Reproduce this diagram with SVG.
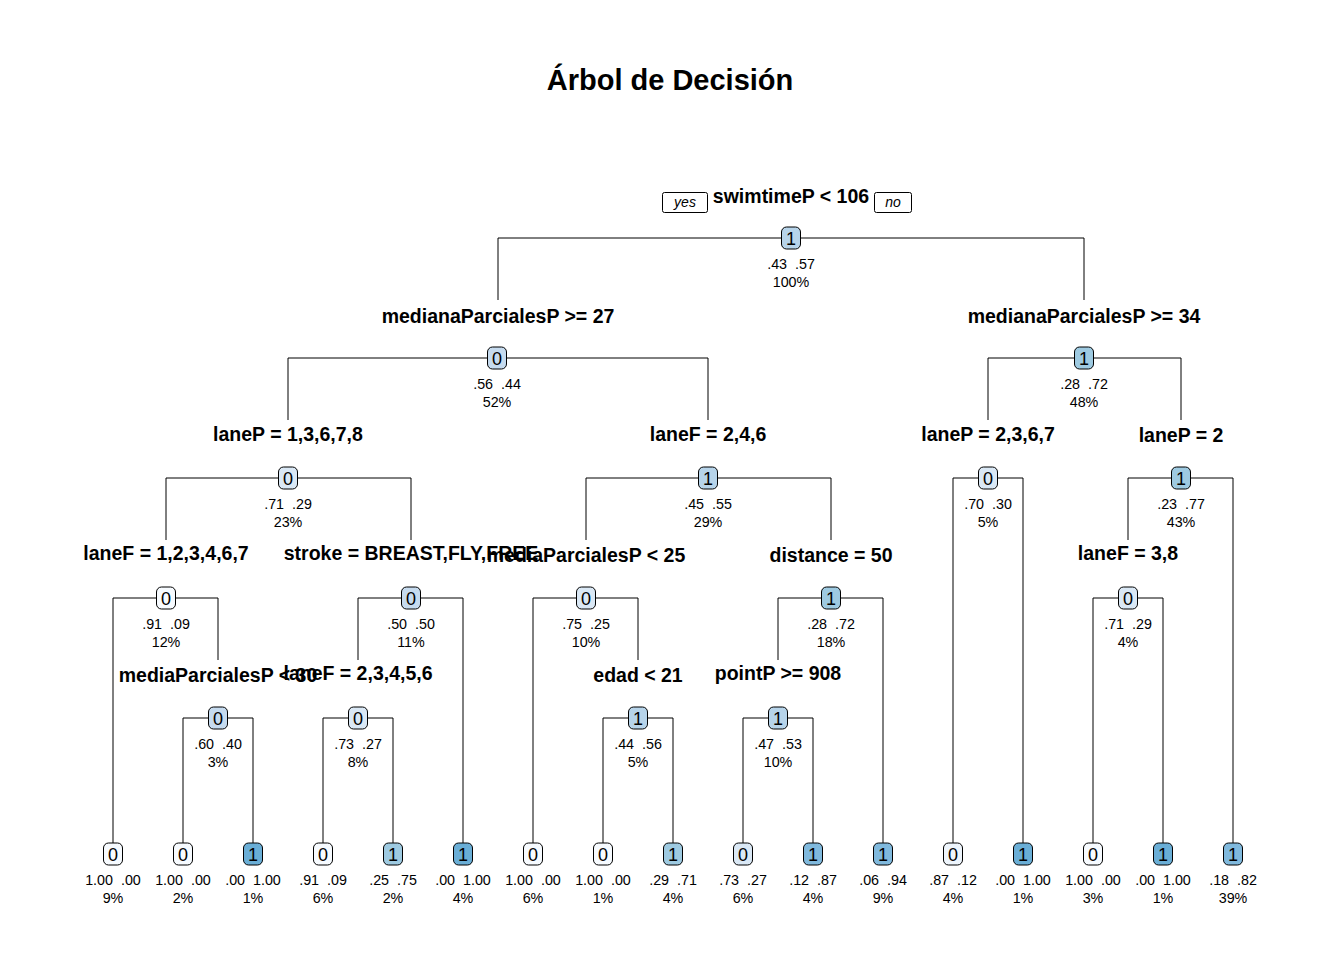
<svg xmlns="http://www.w3.org/2000/svg" width="1344" height="960" viewBox="0 0 1344 960">
<style>
text{font-family:"Liberation Sans",Arial,sans-serif;fill:#000}
.title{font-size:29px;font-weight:bold;text-anchor:middle}
.split{font-size:19.5px;font-weight:bold;text-anchor:middle}
.yn{font-size:14px;font-style:italic;text-anchor:middle}
.cls{font-size:18px;text-anchor:middle}
.pr{font-size:14.3px;text-anchor:middle;white-space:pre}
.box{stroke:#000;stroke-width:1}
.ynbox{fill:#fff;stroke:#000;stroke-width:1}
.c0{fill:#f7fbff}.c12{fill:#eef5fc}.c27{fill:#dae8f5}.c40{fill:#c6dbef}.c55{fill:#b7d4ea}.c72{fill:#9ecae1}.c85{fill:#80b9dd}.c100{fill:#6aaed6}
.conn path{fill:none;stroke:#000;stroke-width:1}
</style>
<defs>
<rect id="nb" x="-9.5" y="-11" width="19" height="22" rx="5" ry="5"/>
</defs>
<rect width="1344" height="960" fill="#fff"/>
<text class="title" x="670" y="90">Árbol de Decisión</text>

<g id="connectors" class="conn">
<path d="M498,300 V238 H1084 V300"/>
<path d="M288,420 V358 H708 V420"/>
<path d="M988,420 V358 H1181 V420"/>
<path d="M166,540 V478 H411 V540"/>
<path d="M586,540 V478 H831 V540"/>
<path d="M953,843 V478 H1023 V843"/>
<path d="M1128,540 V478 H1233 V843"/>
<path d="M113,843 V598 H218 V660"/>
<path d="M358,660 V598 H463 V843"/>
<path d="M533,843 V598 H638 V660"/>
<path d="M778,660 V598 H883 V843"/>
<path d="M1093,843 V598 H1163 V843"/>
<path d="M183,843 V718 H253 V843"/>
<path d="M323,843 V718 H393 V843"/>
<path d="M603,843 V718 H673 V843"/>
<path d="M743,843 V718 H813 V843"/>
</g>

<g id="legend">
<rect class="ynbox" x="662.5" y="192.5" width="45" height="20" rx="2"/>
<text class="yn" x="685" y="207">yes</text>
<rect class="ynbox" x="874.5" y="192.5" width="37" height="20" rx="2"/>
<text class="yn" x="893" y="207">no</text>
</g>

<g id="labels">
<text class="split" x="791" y="203">swimtimeP &lt; 106</text>
<text class="split" x="498" y="323">medianaParcialesP &gt;= 27</text>
<text class="split" x="1084" y="323">medianaParcialesP &gt;= 34</text>
<text class="split" x="288" y="441">laneP = 1,3,6,7,8</text>
<text class="split" x="708" y="441">laneF = 2,4,6</text>
<text class="split" x="988" y="441">laneP = 2,3,6,7</text>
<text class="split" x="1181" y="442">laneP = 2</text>
<text class="split" x="166" y="560">laneF = 1,2,3,4,6,7</text>
<text class="split" x="411" y="560">stroke = BREAST,FLY,FREE</text>
<text class="split" x="586" y="562">mediaParcialesP &lt; 25</text>
<text class="split" x="831" y="562">distance = 50</text>
<text class="split" x="1128" y="560">laneF = 3,8</text>
<text class="split" x="218" y="682">mediaParcialesP &lt; 30</text>
<text class="split" x="358" y="680">laneF = 2,3,4,5,6</text>
<text class="split" x="638" y="682">edad &lt; 21</text>
<text class="split" x="778" y="680">pointP &gt;= 908</text>
</g>

<g id="n1" transform="translate(791,238)"><use href="#nb" class="box c55"/><text class="cls" y="6.5">1</text><text class="pr" y="31">.43  .57</text><text class="pr" y="49">100%</text></g>
<g id="n2" transform="translate(497,358)"><use href="#nb" class="box c40"/><text class="cls" y="6.5">0</text><text class="pr" y="31">.56  .44</text><text class="pr" y="49">52%</text></g>
<g id="n3" transform="translate(1084,358)"><use href="#nb" class="box c72"/><text class="cls" y="6.5">1</text><text class="pr" y="31">.28  .72</text><text class="pr" y="49">48%</text></g>
<g id="n4" transform="translate(288,478)"><use href="#nb" class="box c27"/><text class="cls" y="6.5">0</text><text class="pr" y="31">.71  .29</text><text class="pr" y="49">23%</text></g>
<g id="n5" transform="translate(708,478)"><use href="#nb" class="box c55"/><text class="cls" y="6.5">1</text><text class="pr" y="31">.45  .55</text><text class="pr" y="49">29%</text></g>
<g id="n6" transform="translate(988,478)"><use href="#nb" class="box c27"/><text class="cls" y="6.5">0</text><text class="pr" y="31">.70  .30</text><text class="pr" y="49">5%</text></g>
<g id="n7" transform="translate(1181,478)"><use href="#nb" class="box c72"/><text class="cls" y="6.5">1</text><text class="pr" y="31">.23  .77</text><text class="pr" y="49">43%</text></g>
<g id="n8" transform="translate(166,598)"><use href="#nb" class="box c0"/><text class="cls" y="6.5">0</text><text class="pr" y="31">.91  .09</text><text class="pr" y="49">12%</text></g>
<g id="n9" transform="translate(411,598)"><use href="#nb" class="box c40"/><text class="cls" y="6.5">0</text><text class="pr" y="31">.50  .50</text><text class="pr" y="49">11%</text></g>
<g id="n10" transform="translate(586,598)"><use href="#nb" class="box c27"/><text class="cls" y="6.5">0</text><text class="pr" y="31">.75  .25</text><text class="pr" y="49">10%</text></g>
<g id="n11" transform="translate(831,598)"><use href="#nb" class="box c72"/><text class="cls" y="6.5">1</text><text class="pr" y="31">.28  .72</text><text class="pr" y="49">18%</text></g>
<g id="n14" transform="translate(1128,598)"><use href="#nb" class="box c27"/><text class="cls" y="6.5">0</text><text class="pr" y="31">.71  .29</text><text class="pr" y="49">4%</text></g>
<g id="n16" transform="translate(218,718)"><use href="#nb" class="box c40"/><text class="cls" y="6.5">0</text><text class="pr" y="31">.60  .40</text><text class="pr" y="49">3%</text></g>
<g id="n18" transform="translate(358,718)"><use href="#nb" class="box c27"/><text class="cls" y="6.5">0</text><text class="pr" y="31">.73  .27</text><text class="pr" y="49">8%</text></g>
<g id="n20" transform="translate(638,718)"><use href="#nb" class="box c55"/><text class="cls" y="6.5">1</text><text class="pr" y="31">.44  .56</text><text class="pr" y="49">5%</text></g>
<g id="n22" transform="translate(778,718)"><use href="#nb" class="box c55"/><text class="cls" y="6.5">1</text><text class="pr" y="31">.47  .53</text><text class="pr" y="49">10%</text></g>

<g id="l1" transform="translate(113,854)"><use href="#nb" class="box c0"/><text class="cls" y="6.5">0</text><text class="pr" y="31">1.00  .00</text><text class="pr" y="49">9%</text></g>
<g id="l2" transform="translate(183,854)"><use href="#nb" class="box c0"/><text class="cls" y="6.5">0</text><text class="pr" y="31">1.00  .00</text><text class="pr" y="49">2%</text></g>
<g id="l3" transform="translate(253,854)"><use href="#nb" class="box c100"/><text class="cls" y="6.5">1</text><text class="pr" y="31">.00  1.00</text><text class="pr" y="49">1%</text></g>
<g id="l4" transform="translate(323,854)"><use href="#nb" class="box c0"/><text class="cls" y="6.5">0</text><text class="pr" y="31">.91  .09</text><text class="pr" y="49">6%</text></g>
<g id="l5" transform="translate(393,854)"><use href="#nb" class="box c72"/><text class="cls" y="6.5">1</text><text class="pr" y="31">.25  .75</text><text class="pr" y="49">2%</text></g>
<g id="l6" transform="translate(463,854)"><use href="#nb" class="box c100"/><text class="cls" y="6.5">1</text><text class="pr" y="31">.00  1.00</text><text class="pr" y="49">4%</text></g>
<g id="l7" transform="translate(533,854)"><use href="#nb" class="box c0"/><text class="cls" y="6.5">0</text><text class="pr" y="31">1.00  .00</text><text class="pr" y="49">6%</text></g>
<g id="l8" transform="translate(603,854)"><use href="#nb" class="box c0"/><text class="cls" y="6.5">0</text><text class="pr" y="31">1.00  .00</text><text class="pr" y="49">1%</text></g>
<g id="l9" transform="translate(673,854)"><use href="#nb" class="box c72"/><text class="cls" y="6.5">1</text><text class="pr" y="31">.29  .71</text><text class="pr" y="49">4%</text></g>
<g id="l10" transform="translate(743,854)"><use href="#nb" class="box c27"/><text class="cls" y="6.5">0</text><text class="pr" y="31">.73  .27</text><text class="pr" y="49">6%</text></g>
<g id="l11" transform="translate(813,854)"><use href="#nb" class="box c85"/><text class="cls" y="6.5">1</text><text class="pr" y="31">.12  .87</text><text class="pr" y="49">4%</text></g>
<g id="l12" transform="translate(883,854)"><use href="#nb" class="box c85"/><text class="cls" y="6.5">1</text><text class="pr" y="31">.06  .94</text><text class="pr" y="49">9%</text></g>
<g id="l13" transform="translate(953,854)"><use href="#nb" class="box c12"/><text class="cls" y="6.5">0</text><text class="pr" y="31">.87  .12</text><text class="pr" y="49">4%</text></g>
<g id="l14" transform="translate(1023,854)"><use href="#nb" class="box c100"/><text class="cls" y="6.5">1</text><text class="pr" y="31">.00  1.00</text><text class="pr" y="49">1%</text></g>
<g id="l15" transform="translate(1093,854)"><use href="#nb" class="box c0"/><text class="cls" y="6.5">0</text><text class="pr" y="31">1.00  .00</text><text class="pr" y="49">3%</text></g>
<g id="l16" transform="translate(1163,854)"><use href="#nb" class="box c100"/><text class="cls" y="6.5">1</text><text class="pr" y="31">.00  1.00</text><text class="pr" y="49">1%</text></g>
<g id="l17" transform="translate(1233,854)"><use href="#nb" class="box c85"/><text class="cls" y="6.5">1</text><text class="pr" y="31">.18  .82</text><text class="pr" y="49">39%</text></g>
</svg>
